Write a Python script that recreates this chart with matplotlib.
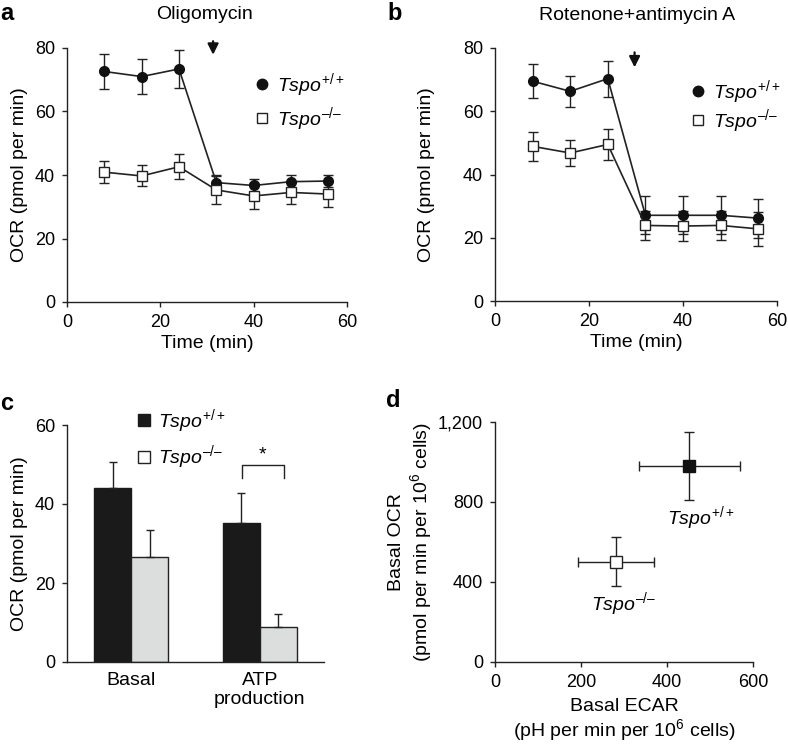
import matplotlib
matplotlib.use("Agg")
import matplotlib.pyplot as plt
import numpy as np
from matplotlib.lines import Line2D
from matplotlib.patches import Patch

plt.rcParams['font.family'] = ['Liberation Sans', 'DejaVu Sans']
plt.rcParams['mathtext.fontset'] = 'custom'
plt.rcParams['mathtext.rm'] = 'Liberation Sans'
plt.rcParams['mathtext.it'] = 'Liberation Sans:italic'
plt.rcParams['font.size'] = 13

WT = r'$\mathit{Tspo}^{+/+}$'
KO = '$\\mathit{Tspo}^{\u2013/\u2013}$'

# ---- data ----
time = [8, 16, 24, 32, 40, 48, 56]
a_wt = [72.6, 71.0, 73.4, 37.6, 36.7, 37.9, 38.1]
a_wt_err = [5.6, 5.5, 6.0, 2.5, 2.0, 2.0, 2.0]
a_ko = [40.9, 39.7, 42.6, 35.3, 33.4, 34.5, 34.0]
a_ko_err = [3.5, 3.3, 4.0, 4.3, 4.0, 3.5, 4.0]

b_wt = [69.5, 66.3, 70.3, 27.1, 27.1, 27.1, 26.2]
b_wt_err = [5.4, 4.8, 5.7, 6.0, 6.0, 6.0, 6.2]
b_ko = [48.9, 46.8, 49.5, 23.9, 23.7, 23.9, 22.8]
b_ko_err = [4.6, 4.0, 5.0, 4.7, 4.7, 4.7, 5.4]

c_categories = ['Basal', 'ATP\nproduction']
c_wt = [44.0, 35.3]
c_wt_err = [6.7, 7.6]
c_ko = [26.5, 8.8]
c_ko_err = [7.0, 3.3]

d_ecar = [452, 281]
d_ecar_err = [117, 88]
d_ocr = [978, 502]
d_ocr_err = [170, 122]

fig = plt.figure(figsize=(7.88, 7.44), dpi=100)
W, H = 788, 744
FS_T = 13     # tick labels
FS_L = 14     # axis labels / titles
FS_G = 14     # legend / annotations

def add_ax(l, t, r, b):
    return fig.add_axes([l / W, 1 - b / H, (r - l) / W, (b - t) / H])

def style(ax):
    for s in ['top', 'right']:
        ax.spines[s].set_visible(False)
    for s in ['left', 'bottom']:
        ax.spines[s].set_linewidth(1.0)
        ax.spines[s].set_color('#222222')
    ax.tick_params(direction='out', length=3.6, width=1.0, color='#222222', labelsize=FS_T, pad=5)

lc = '#222222'

# ---- panel a ----
axa = add_ax(67, 48, 347, 302)
style(axa)
axa.errorbar(time, a_wt, yerr=a_wt_err, color=lc, marker='o', ms=7, mfc='#111111', mec='#111111',
             lw=1.2, elinewidth=1.0, capsize=3.5, zorder=3)
axa.errorbar(time, a_ko, yerr=a_ko_err, color=lc, marker='s', ms=6.5, mfc='white', mec=lc, mew=1.0,
             lw=1.2, elinewidth=1.0, capsize=3.5, zorder=3)
axa.set_xlim(0, 60)
axa.set_ylim(0, 80)
axa.set_xticks([0, 20, 40, 60])
axa.set_yticks([0, 20, 40, 60, 80])
axa.set_xlabel('Time (min)', fontsize=FS_L, labelpad=3)
axa.set_ylabel('OCR (pmol per min)', fontsize=FS_L, labelpad=5)
axa.annotate('', xy=(31.3, 77.0), xytext=(31.3, 83.0), xycoords='data',
             arrowprops=dict(arrowstyle='-|>', color='#111111', lw=1.6, mutation_scale=16),
             annotation_clip=False)
axa.text(0.49, 1.13, 'Oligomycin', transform=axa.transAxes, ha='center', va='center', fontsize=FS_L)
ha = [Line2D([], [], marker='o', ls='none', ms=7.5, mfc='#111111', mec='#111111'),
      Line2D([], [], marker='s', ls='none', ms=7, mfc='white', mec=lc)]
axa.legend(ha, [WT, KO], loc='center left', bbox_to_anchor=(0.605, 0.787), frameon=False,
           handlelength=0.8, handletextpad=0.4, labelspacing=0.3, fontsize=FS_G)

# ---- panel b ----
axb = add_ax(495, 48, 777, 301)
style(axb)
axb.errorbar(time, b_wt, yerr=b_wt_err, color=lc, marker='o', ms=7, mfc='#111111', mec='#111111',
             lw=1.2, elinewidth=1.0, capsize=3.5, zorder=3)
axb.errorbar(time, b_ko, yerr=b_ko_err, color=lc, marker='s', ms=6.5, mfc='white', mec=lc, mew=1.0,
             lw=1.2, elinewidth=1.0, capsize=3.5, zorder=3)
axb.set_xlim(0, 60)
axb.set_ylim(0, 80)
axb.set_xticks([0, 20, 40, 60])
axb.set_yticks([0, 20, 40, 60, 80])
axb.set_xlabel('Time (min)', fontsize=FS_L, labelpad=3)
axb.set_ylabel('OCR (pmol per min)', fontsize=FS_L, labelpad=20)
axb.annotate('', xy=(29.7, 73.0), xytext=(29.7, 79.5), xycoords='data',
             arrowprops=dict(arrowstyle='-|>', color='#111111', lw=1.6, mutation_scale=16),
             annotation_clip=False)
axb.text(0.505, 1.13, 'Rotenone+antimycin A', transform=axb.transAxes, ha='center', va='center', fontsize=FS_L)
axb.legend(ha, [WT, KO], loc='center left', bbox_to_anchor=(0.63, 0.77), frameon=False,
           handlelength=0.8, handletextpad=0.4, labelspacing=0.05, fontsize=FS_G)

# ---- panel c ----
axc = add_ax(67, 425, 324, 662)
style(axc)
x = np.arange(len(c_categories))
bw = 0.288
axc.bar(x - bw / 2, c_wt, width=bw, color='#1a1a1a', edgecolor='#1a1a1a', lw=1.0,
        yerr=[[0] * 2, c_wt_err], error_kw=dict(ecolor=lc, elinewidth=1.0, capsize=3, capthick=1.0))
axc.bar(x + bw / 2, c_ko, width=bw, color='#dcdedd', edgecolor='#222222', lw=1.0,
        yerr=[[0] * 2, c_ko_err], error_kw=dict(ecolor=lc, elinewidth=1.0, capsize=3, capthick=1.0))
axc.set_xlim(-0.5, 1.5)
axc.set_ylim(0, 60)
axc.set_yticks([0, 20, 40, 60])
axc.set_xticks(x)
axc.set_xticklabels(c_categories, fontsize=FS_L, linespacing=1.2)
axc.tick_params(axis='x', length=0, pad=7)
axc.set_ylabel('OCR (pmol per min)', fontsize=FS_L, labelpad=5)
axc.plot([0.86, 0.86, 1.19, 1.19], [46.7, 49.9, 49.9, 46.7], color=lc, lw=1.0)
axc.text(1.025, 52.5, '*', ha='center', va='center', fontsize=FS_G)
hc = [Patch(facecolor='#1a1a1a', edgecolor='#1a1a1a'),
      Patch(facecolor='white', edgecolor='#222222')]
axc.legend(hc, [WT, KO], loc='center left', bbox_to_anchor=(0.21, 0.94), frameon=False,
           handlelength=0.6, handleheight=0.6, handletextpad=0.4, labelspacing=0.45, fontsize=FS_G)

# ---- panel d ----
axd = add_ax(495, 422, 753, 662)
style(axd)
axd.errorbar(d_ecar[0], d_ocr[0], xerr=d_ecar_err[0], yerr=d_ocr_err[0], marker='s', ms=8.5,
             mfc='#111111', mec='#111111', color=lc, elinewidth=1.0, capsize=3.5, ls='none', zorder=3)
axd.errorbar(d_ecar[1], d_ocr[1], xerr=d_ecar_err[1], yerr=d_ocr_err[1], marker='s', ms=8.5,
             mfc='white', mec=lc, mew=1.0, color=lc, elinewidth=1.0, capsize=3.5, ls='none', zorder=3)
axd.set_xlim(0, 600)
axd.set_ylim(0, 1200)
axd.set_xticks([0, 200, 400, 600])
axd.set_yticks([0, 400, 800, 1200])
axd.set_yticklabels(['0', '400', '800', '1,200'])
axd.set_xlabel('Basal ECAR\n(pH per min per 10$^6$ cells)', fontsize=FS_L, labelpad=5, linespacing=1.1)
axd.set_ylabel('Basal OCR\n(pmol per min per 10$^6$ cells)', fontsize=FS_L, labelpad=3, linespacing=1.15)
axd.text(478, 720, WT, ha='center', va='center', fontsize=FS_G)
axd.text(300, 290, KO, ha='center', va='center', fontsize=FS_G)

# ---- panel letters ----
for lab, px, py in [('a', 0, 20), ('b', 387, 20), ('c', 0, 410), ('d', 386, 407)]:
    fig.text(px / W, 1 - py / H, lab, fontsize=17, fontweight='bold', ha='left', va='baseline')

fig.savefig('out.png', dpi=100)
